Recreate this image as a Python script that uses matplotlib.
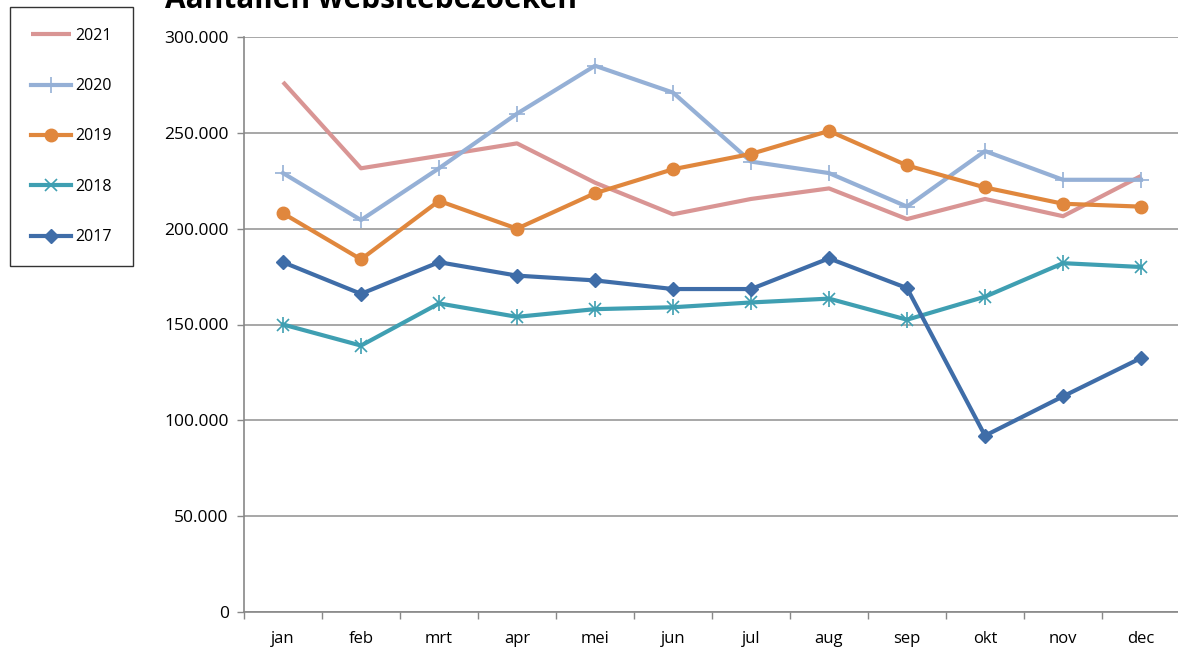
import matplotlib.pyplot as plt
from matplotlib.ticker import FuncFormatter

plt.rcParams['font.family'] = ['Open Sans', 'DejaVu Sans']

months = ['jan', 'feb', 'mrt', 'apr', 'mei', 'jun', 'jul', 'aug', 'sep', 'okt', 'nov', 'dec']
v2021 = [276500, 231500, 238000, 244500, 224000, 207500, 215500, 221000, 205000, 215500, 206500, 227500]
v2020 = [229000, 204500, 231500, 260000, 285000, 271000, 235000, 229000, 211500, 240500, 225500, 225500]
v2019 = [208000, 184000, 214500, 200000, 218500, 231000, 239000, 251000, 233000, 221500, 213000, 211500]
v2018 = [150000, 139000, 161000, 154000, 158000, 159000, 161500, 163500, 152500, 164500, 182000, 180000]
v2017 = [182500, 166000, 182500, 175500, 173000, 168500, 168500, 184500, 169000, 92000, 112500, 132500]

fig = plt.figure(figsize=(11.78, 6.47), dpi=100)
ax = fig.add_axes([244/1178, 1 - 612/647, 936/1178, 575/647])

x = list(range(len(months)))
ax.plot(x, v2021, color='#D99594', lw=3, label='2021', solid_capstyle='butt')
ax.plot(x, v2020, color='#95B0D6', lw=3, marker='+', ms=11, mew=1.2, label='2020')
ax.plot(x, v2019, color='#E0873D', lw=3, marker='o', ms=9, label='2019')
ax.plot(x, v2018, color='#3F9FB2', lw=3, marker='x', ms=8, mew=1.2, label='2018')
ax.plot(x, v2018, color='#3F9FB2', lw=0, marker='|', ms=11, mew=1.2)
ax.plot(x, v2017, color='#3F6DA8', lw=3, marker='D', ms=7, label='2017')

ax.set_xlim(-0.5, 11.5)
ax.set_ylim(0, 300000)
ax.set_yticks(range(0, 300001, 50000))
ax.yaxis.set_major_formatter(FuncFormatter(lambda v, p: f'{int(v):,}'.replace(',', '.')))
ax.set_xticks(x)
ax.set_xticklabels(months)
ax.set_xticks([i - 0.5 for i in range(13)], minor=True)
ax.tick_params(axis='x', which='major', length=0, pad=14, labelsize=12)
ax.tick_params(axis='x', which='minor', length=5, color='#888888', width=1)
ax.tick_params(axis='y', length=5, color='#888888', width=1, labelsize=12.5, pad=6)
ax.grid(axis='y', color='#A0A0A0', lw=1.3)
ax.set_axisbelow(True)
for s in ['top', 'right']:
    ax.spines[s].set_visible(False)
ax.spines['left'].set_color('#888888')
ax.spines['bottom'].set_color('#888888')
ax.spines['left'].set_linewidth(1.2)
ax.spines['bottom'].set_linewidth(1.2)

fig.text(165/1178, 1 - 8/647, 'Aantallen websitebezoeken', fontsize=21.5, fontweight='bold',
         ha='left', va='baseline')

leg = fig.legend(loc='upper left', bbox_to_anchor=(10/1178, 1 - 7/647), frameon=True,
                 fancybox=False, edgecolor='black', fontsize=11.5, handlelength=2.5,
                 labelspacing=2.15, borderpad=1.3, handletextpad=0.3, borderaxespad=0)
leg.get_frame().set_linewidth(1.0)

fig.savefig('out.png', dpi=100)
